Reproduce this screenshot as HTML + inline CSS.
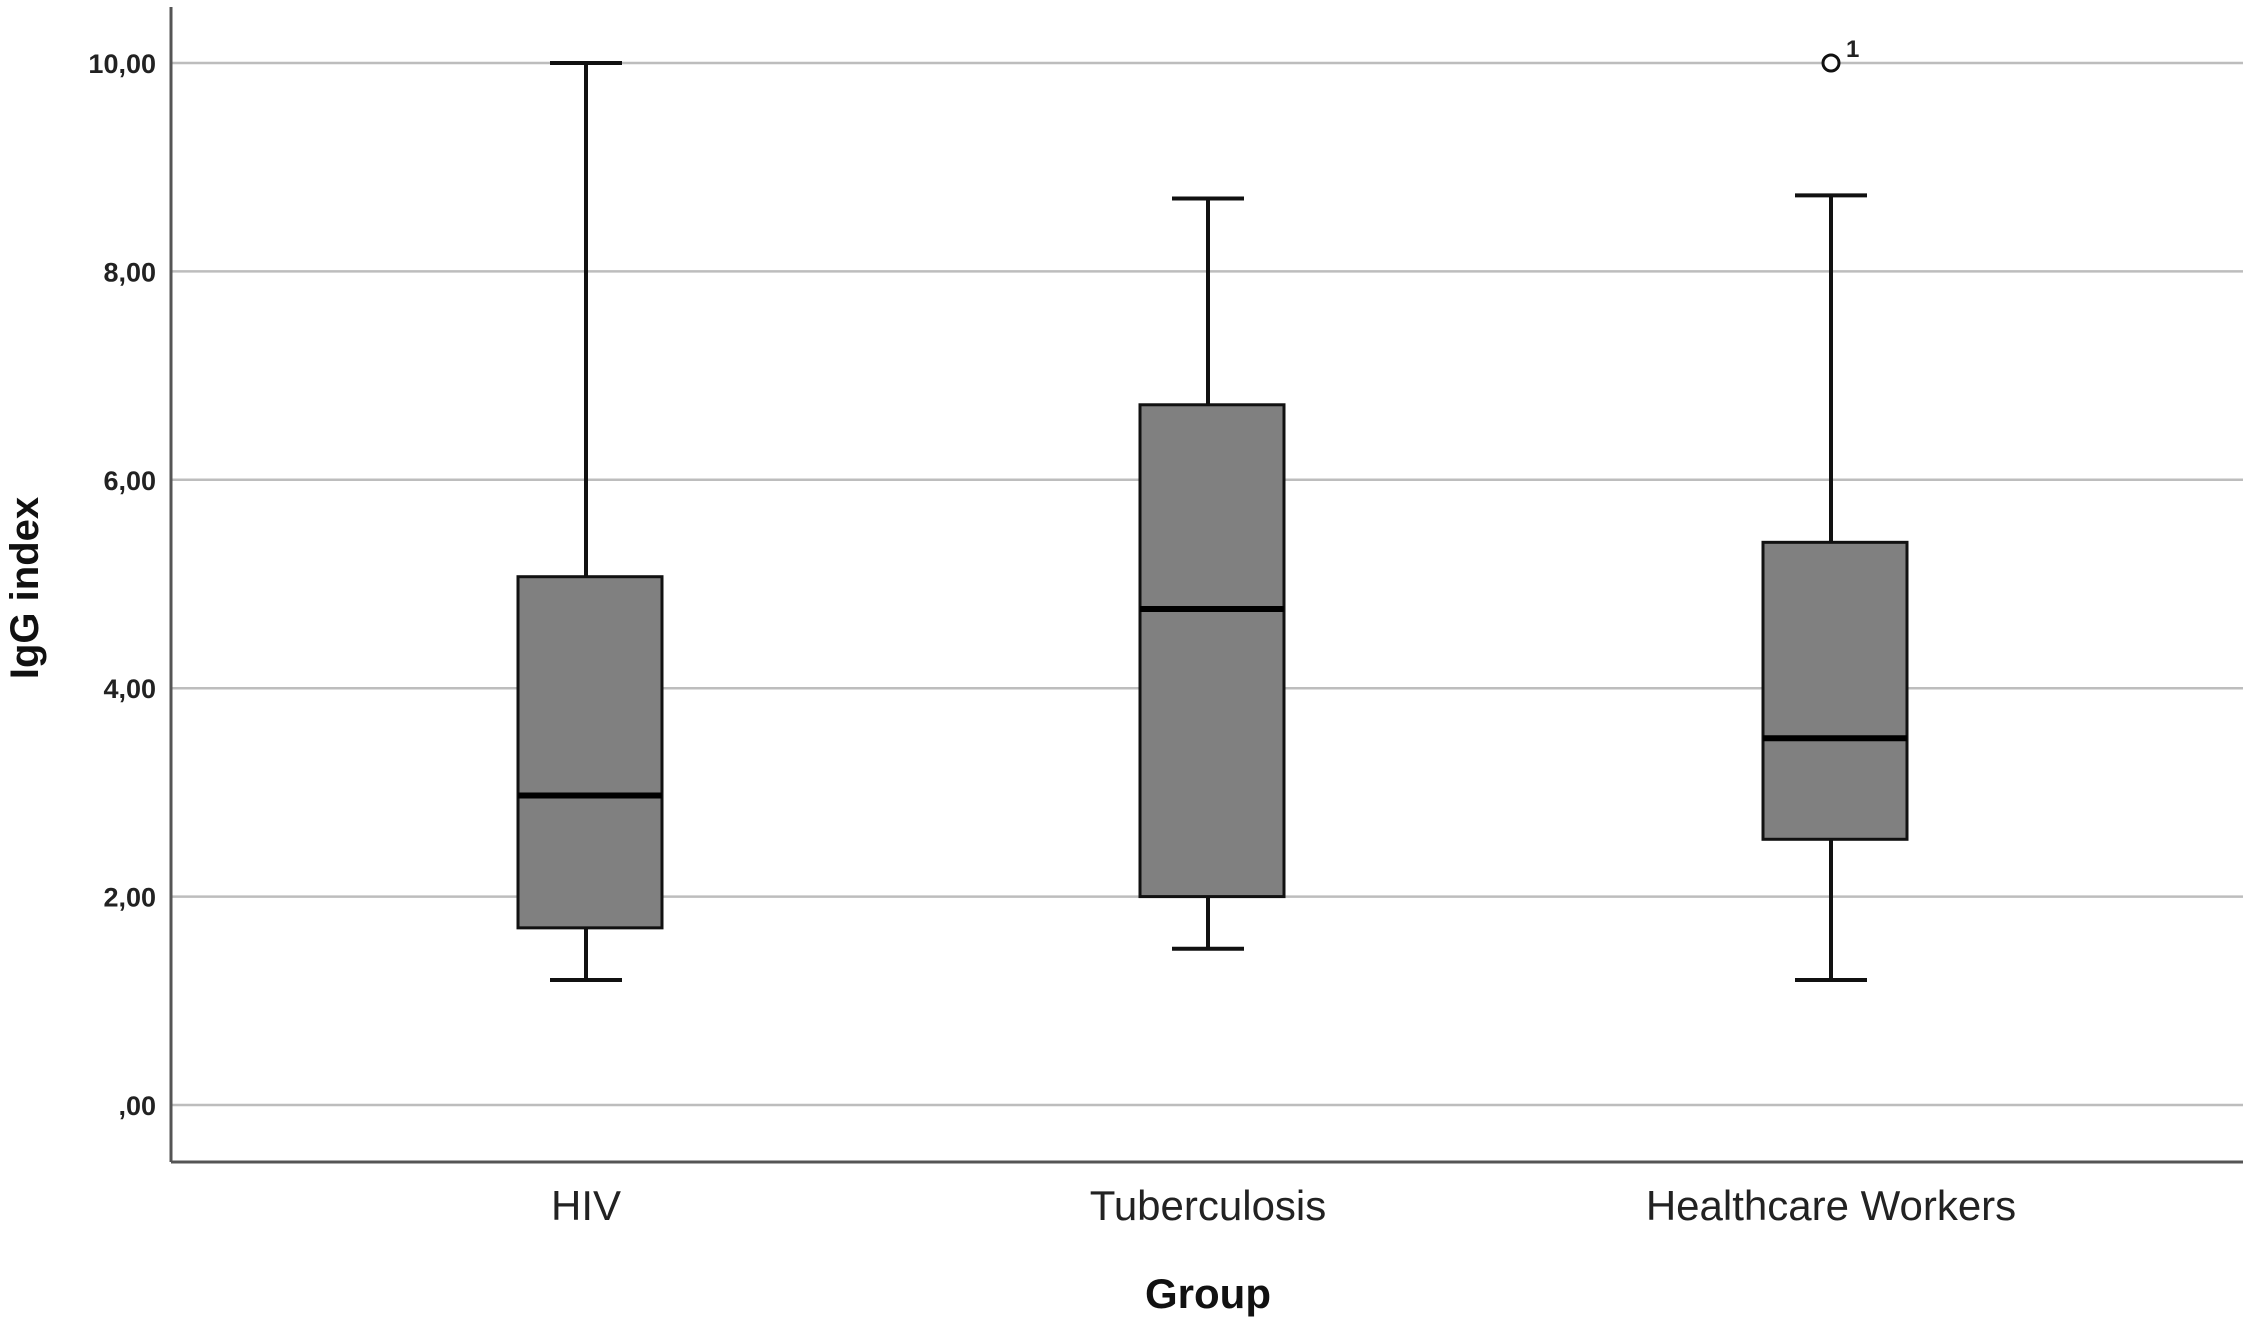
<!DOCTYPE html>
<html><head><meta charset="utf-8"><style>
body{margin:0;background:#fff;}
svg{display:block;font-family:"Liberation Sans",Arial,sans-serif;}
</style></head><body>
<svg id="chart" width="2250" height="1322" viewBox="0 0 2250 1322"></svg>
<script>
const categories=["HIV","Tuberculosis","Healthcare Workers"];
const mins=[1.2,1.5,1.2];
const q1s=[1.7,2.0,2.55];
const medians=[2.97,4.76,3.52];
const q3s=[5.07,6.72,5.4];
const maxs=[10,8.7,8.73];
const outlierVals=[null,null,10];
const outlierLabels=[null,null,"1"];
const ticks=[0,2,4,6,8,10];
const tickLabels=[",00","2,00","4,00","6,00","8,00","10,00"];

const NS="http://www.w3.org/2000/svg";
const svg=document.getElementById('chart');
const X0=171,X1=2243,YTOP=7,YBOT=1162;
const y=v=>1105-v*104.2;
const centers=[586,1208,1831];
const x=i=>centers[i];
const boxW=144,capW=72;
function el(t,a,p){const e=document.createElementNS(NS,t);for(const k in a)e.setAttribute(k,a[k]);(p||svg).appendChild(e);return e;}

ticks.forEach((t,i)=>{
  const g=el('line',{x1:X0,x2:X1,y1:y(t),y2:y(t),stroke:'#bdbdbd','stroke-width':2.5});
  
  
  const tx=el('text',{x:156,y:y(t)+10,'text-anchor':'end','font-size':27,'font-weight':'bold',fill:'#222'});
  tx.textContent=tickLabels[i];
  
  
});
const ya=el('line',{x1:X0,x2:X0,y1:YTOP,y2:YBOT,stroke:'#555','stroke-width':3});


const xa=el('line',{x1:X0,x2:X1,y1:YBOT,y2:YBOT,stroke:'#555','stroke-width':3});



categories.forEach((c,i)=>{
  const g=el('g',{});
  
  
  const cx=x(i);
  el('line',{x1:cx,x2:cx,y1:y(maxs[i]),y2:y(q3s[i]),stroke:'#111','stroke-width':4},g);
  el('line',{x1:cx,x2:cx,y1:y(q1s[i]),y2:y(mins[i]),stroke:'#111','stroke-width':4},g);
  el('line',{x1:cx-capW/2,x2:cx+capW/2,y1:y(maxs[i]),y2:y(maxs[i]),stroke:'#111','stroke-width':4},g);
  el('line',{x1:cx-capW/2,x2:cx+capW/2,y1:y(mins[i]),y2:y(mins[i]),stroke:'#111','stroke-width':4},g);
  el('rect',{x:cx-boxW/2+4,y:y(q3s[i]),width:boxW,height:y(q1s[i])-y(q3s[i]),fill:'#808080',stroke:'#111','stroke-width':3},g);
  el('line',{x1:cx-boxW/2+4,x2:cx+boxW/2+4,y1:y(medians[i]),y2:y(medians[i]),stroke:'#000','stroke-width':6},g);
  if(outlierVals[i]!==null){
    const o=el('circle',{cx:cx,cy:y(outlierVals[i]),r:8,fill:'#fff',stroke:'#111','stroke-width':3});
    
    
    const ol=el('text',{x:cx+15,y:y(outlierVals[i])-6,'font-size':24,'font-weight':'bold',fill:'#222'});
    ol.textContent=outlierLabels[i];
    
    
  }
  const t=el('text',{x:cx,y:1220,'text-anchor':'middle','font-size':42,fill:'#222'});
  t.textContent=c;
  
  
});
const yt=el('text',{x:0,y:0,'text-anchor':'middle','font-size':40,'font-weight':'bold',fill:'#111',transform:'translate(38,588) rotate(-90)'});
yt.textContent='IgG index';


const xt=el('text',{x:1208,y:1308,'text-anchor':'middle','font-size':42,'font-weight':'bold',fill:'#111'});
xt.textContent='Group';


</script>
</body></html>
